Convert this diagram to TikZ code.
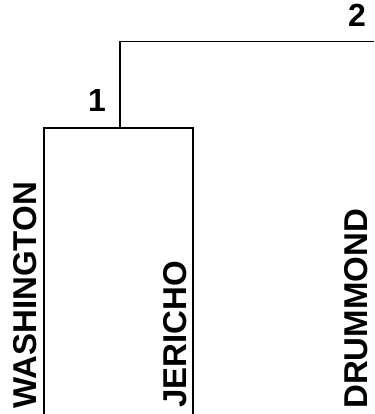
\documentclass[tikz,border=0pt]{standalone}
\usepackage{fontspec}
\setmainfont{Liberation Sans}
\usetikzlibrary{positioning}

\begin{document}
\begin{tikzpicture}[x=1pt,y=1pt,
	leaf/.style={rotate=90,anchor=base west,inner sep=0pt,font=\fontsize{33}{39}\selectfont\bfseries},
	level/.style={anchor=base east,inner sep=0pt,font=\fontsize{32}{38}\selectfont\bfseries},
	branch/.style={line width=1.6pt}]
	\useasboundingbox (0,0) rectangle (374,414);
	% leaves
	\node[leaf] (washington) at (36,5) {WASHINGTON};
	\node[leaf] (jericho) at (186,6) {JERICHO};
	\node[leaf] (drummond) at (367,5) {DRUMMOND};
	\coordinate (w) at (44,0);
	\coordinate (j) at (193,0);
	\coordinate (m1) at (120,286);
	\coordinate (m2) at (120,372.5);
	\coordinate (d) at (374,372.5);
	%
	\draw[branch] (w) |- (m1) -| (j);
	\draw[branch] (m1) -- (m2) -- (d);
	\node[level] (l1) at (106,302) {1};
	\node[level] (l2) at (366,387) {2};
\end{tikzpicture}
\end{document}
